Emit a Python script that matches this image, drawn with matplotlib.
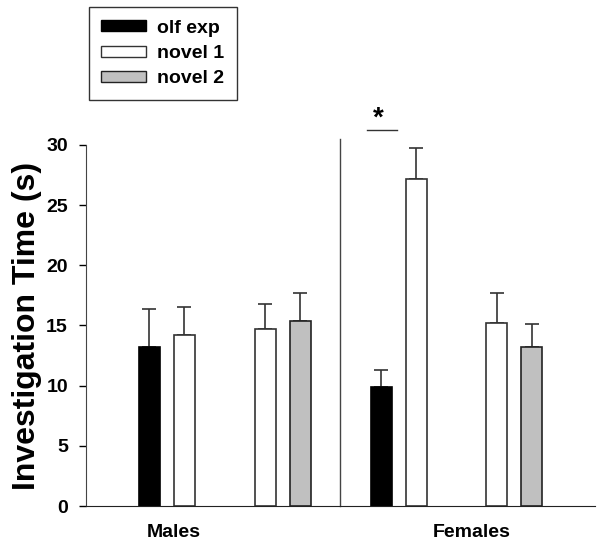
import matplotlib.pyplot as plt
from matplotlib.patches import Patch

plt.rcParams['font.family'] = ['Liberation Sans', 'DejaVu Sans']
plt.rcParams['font.weight'] = 'bold'

# values
conditions = ['olf exp', 'novel 1', 'novel 1', 'novel 2',
              'olf exp', 'novel 1', 'novel 1', 'novel 2']
means = [13.2, 14.2, 14.7, 15.4, 9.9, 27.2, 15.2, 13.2]
sems = [3.2, 2.3, 2.1, 2.3, 1.4, 2.5, 2.5, 1.9]
groups = ['Males', 'Females']

# bar positions along x (axis runs 0..509)
xpos = [63.5, 98.5, 179.5, 214.5, 295, 330, 410.5, 445.5]
colors = {'olf exp': 'black', 'novel 1': 'white', 'novel 2': '#c0c0c0'}
edges = {'olf exp': 'black', 'novel 1': '#333333', 'novel 2': '#222222'}

fig = plt.figure(figsize=(6, 5.43), dpi=100)
ax = fig.add_axes([0.1433, 0.0681, 0.8484, 0.6651])

for x, m, s, c in zip(xpos, means, sems, conditions):
    ax.bar(x, m, width=21, color=colors[c], edgecolor=edges[c], linewidth=1.2,
           zorder=2)
    ax.errorbar(x, m, yerr=[[0], [s]], color='#333333', capsize=5,
                elinewidth=1.2, capthick=1.2, zorder=1)

ax.set_xlim(0, 509)
ax.set_ylim(0, 30)
ax.set_yticks(range(0, 31, 5))
ax.tick_params(axis='y', direction='out', length=5, width=1, labelsize=14, pad=8)
ax.set_xticks([])
for sp in ['top', 'right']:
    ax.spines[sp].set_visible(False)
ax.spines['left'].set_color('#444444')
ax.spines['bottom'].set_color('#222222')
ax.set_ylabel('Investigation Time (s)', fontsize=23, fontweight='bold', labelpad=3)

# divider between sexes
ax.plot([253.7, 253.7], [0, 30.5], color='#444444', lw=1, clip_on=False)

# significance
ax.plot([281, 311], [31.25, 31.25], color='#333333', lw=1, clip_on=False)
ax.text(292, 32.2, '*', ha='center', va='center', fontsize=20, fontweight='bold')

ax.text(88, -2.2, groups[0], ha='center', va='center', fontsize=14, fontweight='bold')
ax.text(386, -2.2, groups[1], ha='center', va='center', fontsize=14, fontweight='bold')

handles = [Patch(facecolor=colors[c], edgecolor=edges[c], label=c)
           for c in ['olf exp', 'novel 1', 'novel 2']]
leg = fig.legend(handles=handles, loc='upper left', bbox_to_anchor=(0.148, 0.987),
                 borderaxespad=0, frameon=True, fancybox=False, edgecolor='black',
                 prop={'size': 14, 'weight': 'bold'}, handlelength=2.3,
                 handleheight=0.5, handletextpad=0.55, borderpad=0.65,
                 labelspacing=0.43)
leg.get_frame().set_linewidth(1)

fig.savefig('out.png', dpi=100)
